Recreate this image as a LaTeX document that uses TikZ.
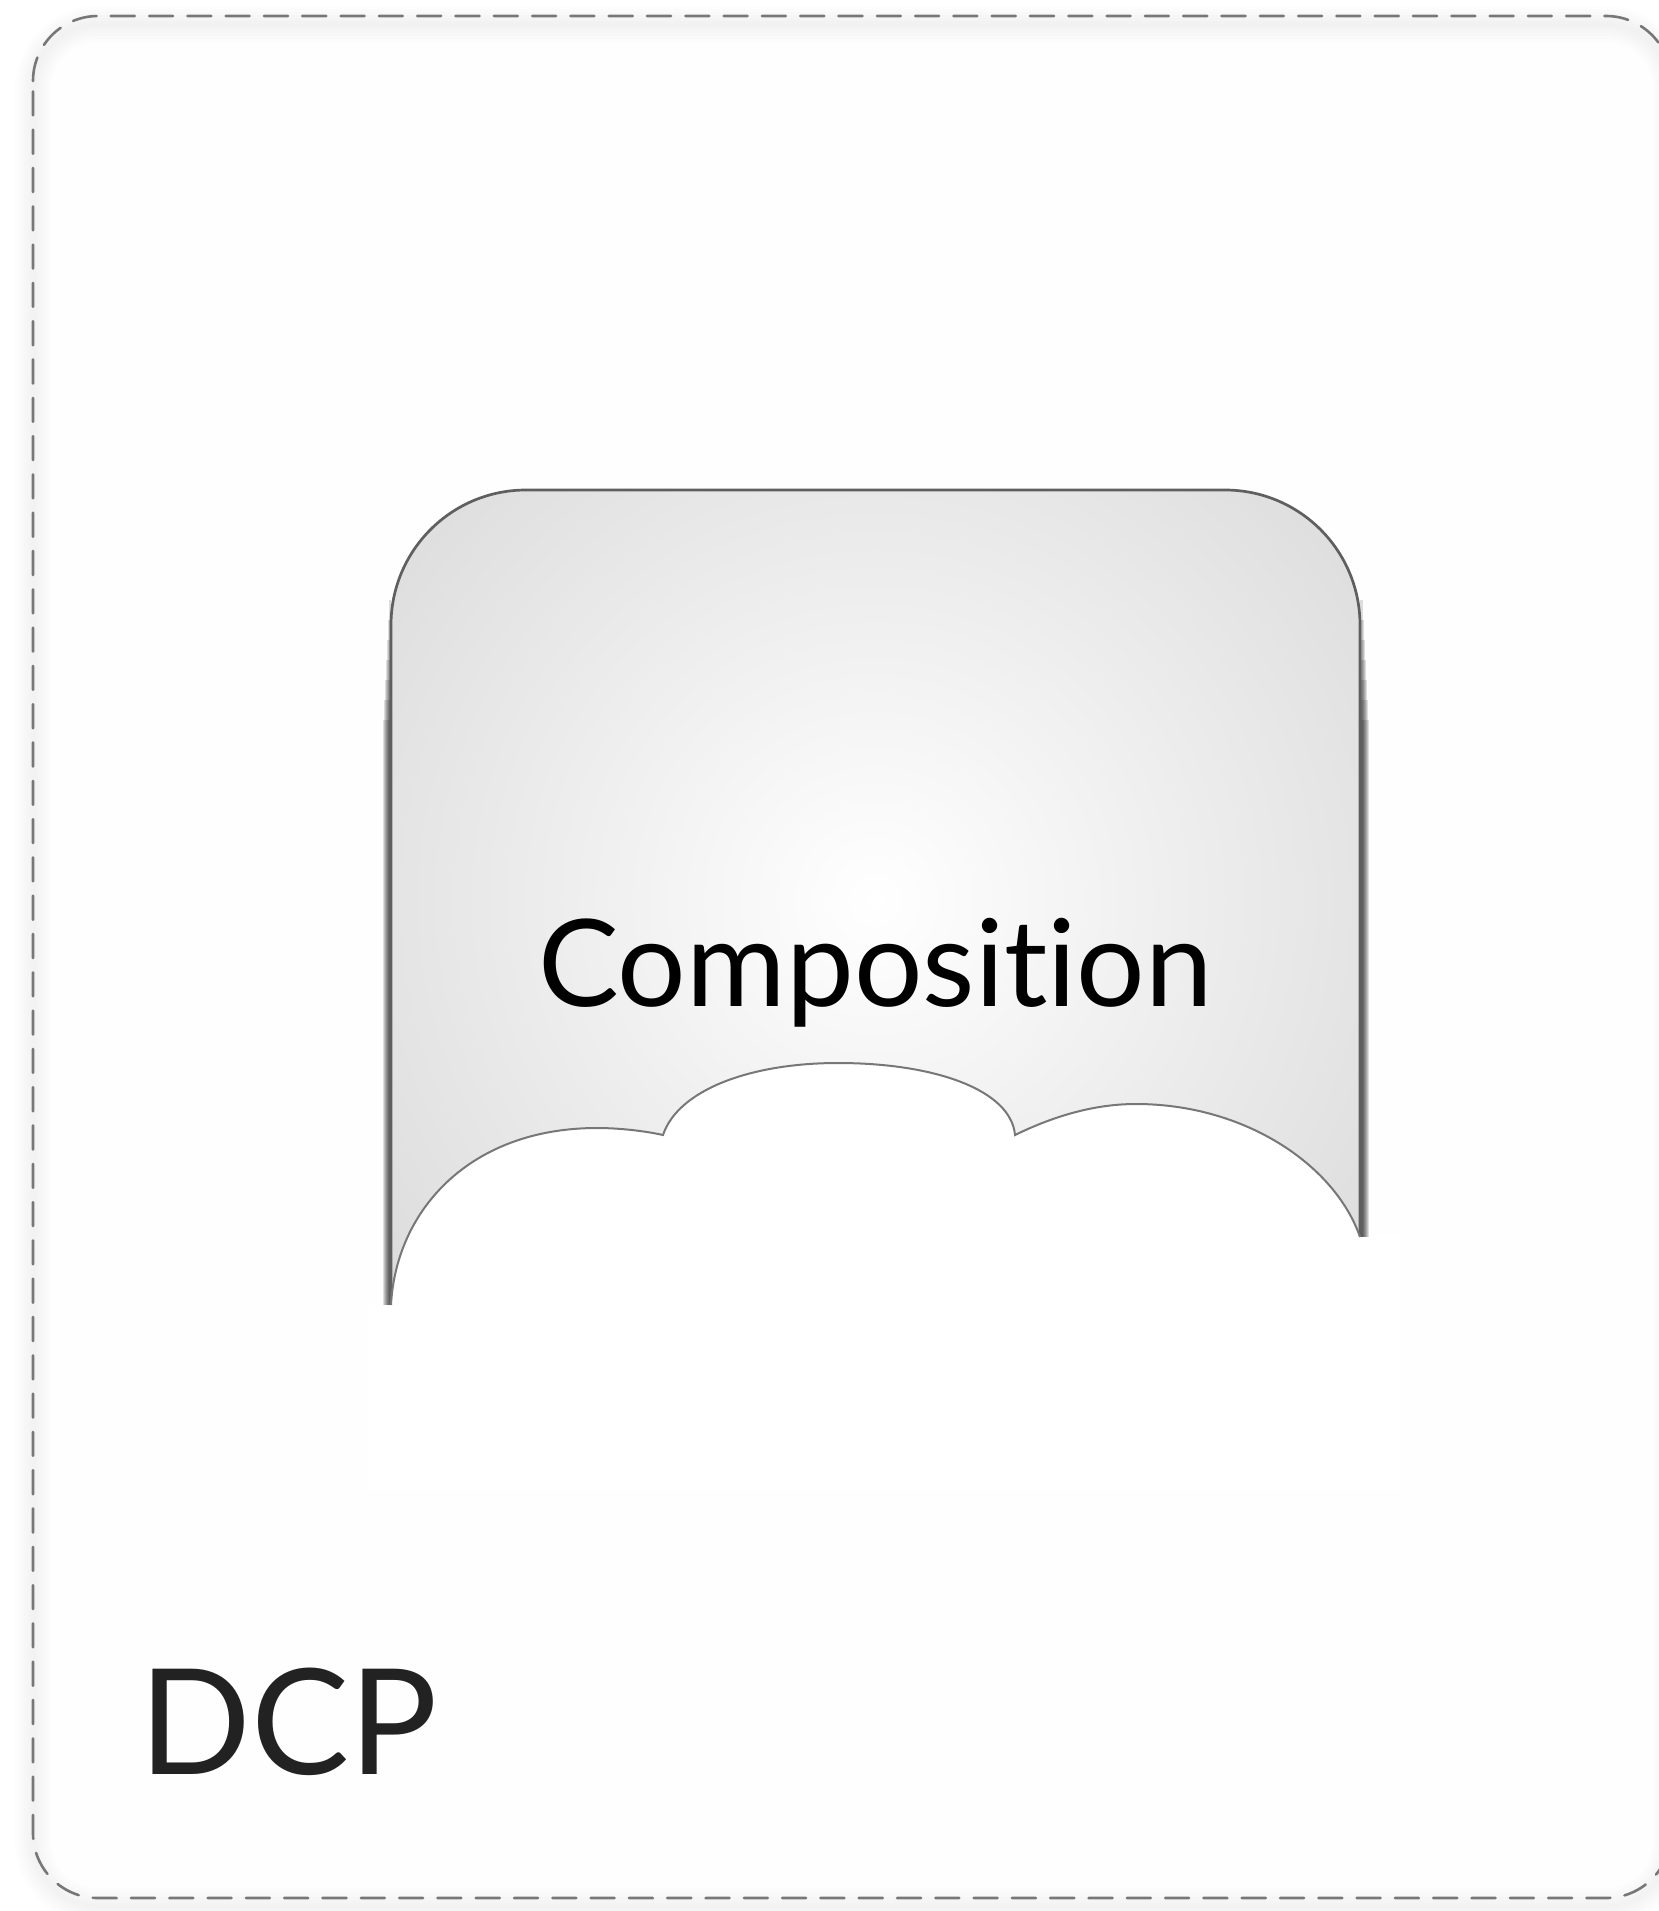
\documentclass[tikz,border=0pt]{standalone}
\usepackage{fontspec}
\setmainfont[Ligatures=NoCommon]{Lato}
\definecolor{edgegray}{HTML}{777777}
\definecolor{boxedge}{HTML}{5F5F5F}
\definecolor{boxouter}{HTML}{D8D8D8}
\definecolor{pagefill}{HTML}{FEFEFE}
\definecolor{maskfill}{HTML}{FFFFFF}
\definecolor{darktext}{HTML}{222222}
\tikzset{
  x=1pt,y=-1pt,
  outerframe/.style={draw=edgegray,line width=2.6pt,line cap=round,dash pattern=on 24pt off 14.3pt},
  softline/.style={draw=black,opacity=0.008},
  boxline/.style={draw=boxedge,line width=2.7pt},
  cloudline/.style={draw=edgegray,line width=2pt},
  sideglow/.style={fill=black,opacity=0.13},
  titletext/.style={inner sep=0pt,anchor=base west,font=\fontsize{121pt}{121pt}\selectfont,text=black},
  cornertext/.style={inner sep=0pt,anchor=base west,font=\fontsize{147pt}{147pt}\selectfont,text=darktext},
}
\newcommand{\framepath}{(33,81) arc[start angle=180,end angle=270,radius=65] -- (1606,16) arc[start angle=270,end angle=360,radius=65] -- (1671,1833) arc[start angle=0,end angle=90,radius=65] -- (98,1898) arc[start angle=90,end angle=180,radius=65] -- cycle}
\newcommand{\boxpath}{(391,1310) -- (391,625) arc[start angle=180,end angle=270,radius=135] -- (1225,490) arc[start angle=270,end angle=360,radius=135] -- (1360,1310) -- cycle}
\newcommand{\cloudcurve}{(391,1305) .. controls (396,1210) and (470,1128) .. (597,1128) .. controls (620,1128) and (645,1131) .. (663,1135) .. controls (678,1090) and (750,1063) .. (838,1063) .. controls (935,1063) and (1011,1090) .. (1015,1135) .. controls (1056,1115) and (1096,1104) .. (1136,1104) .. controls (1245,1104) and (1335,1165) .. (1360,1237)}
\begin{document}
\begin{tikzpicture}
\useasboundingbox (0,0) rectangle (1659,1911);
\fill[white] (0,0) rectangle (1659,1911);
% outer frame: body and its soft shadow
\fill[pagefill] \framepath;
\begin{scope}[yshift=-8pt]
  \foreach \w in {36,30,24,18,12,6}{\draw[softline,line width=\w pt] \framepath;}
\end{scope}
\draw[outerframe] \framepath;
% composition box: side shadows, fading in downward
\foreach \w/\t in {8.5/720,7.5/700,6.5/680,5.5/660,4.5/640,3.5/620,2.5/600}{
  \fill[sideglow] (391-\w,\t) rectangle (391,1310);
  \fill[sideglow] (1360,\t) rectangle (1360+\w,1310);
}
% composition box: fill
\begin{scope}
  \clip \boxpath;
  \shade[inner color=white,outer color=boxouter] (875,900) circle[radius=700];
\end{scope}
\draw[boxline] \boxpath;
% cloud mask and outline
\fill[maskfill] (367,1305) -- \cloudcurve -- (1400,1237) -- (1400,1490) -- (367,1490) -- cycle;
\draw[cloudline] \cloudcurve;
% labels
\node[titletext] (composition) at (538,1006) {Composition};
\node[cornertext] (dcp) at (139,1774) {DCP};
\end{tikzpicture}
\end{document}
